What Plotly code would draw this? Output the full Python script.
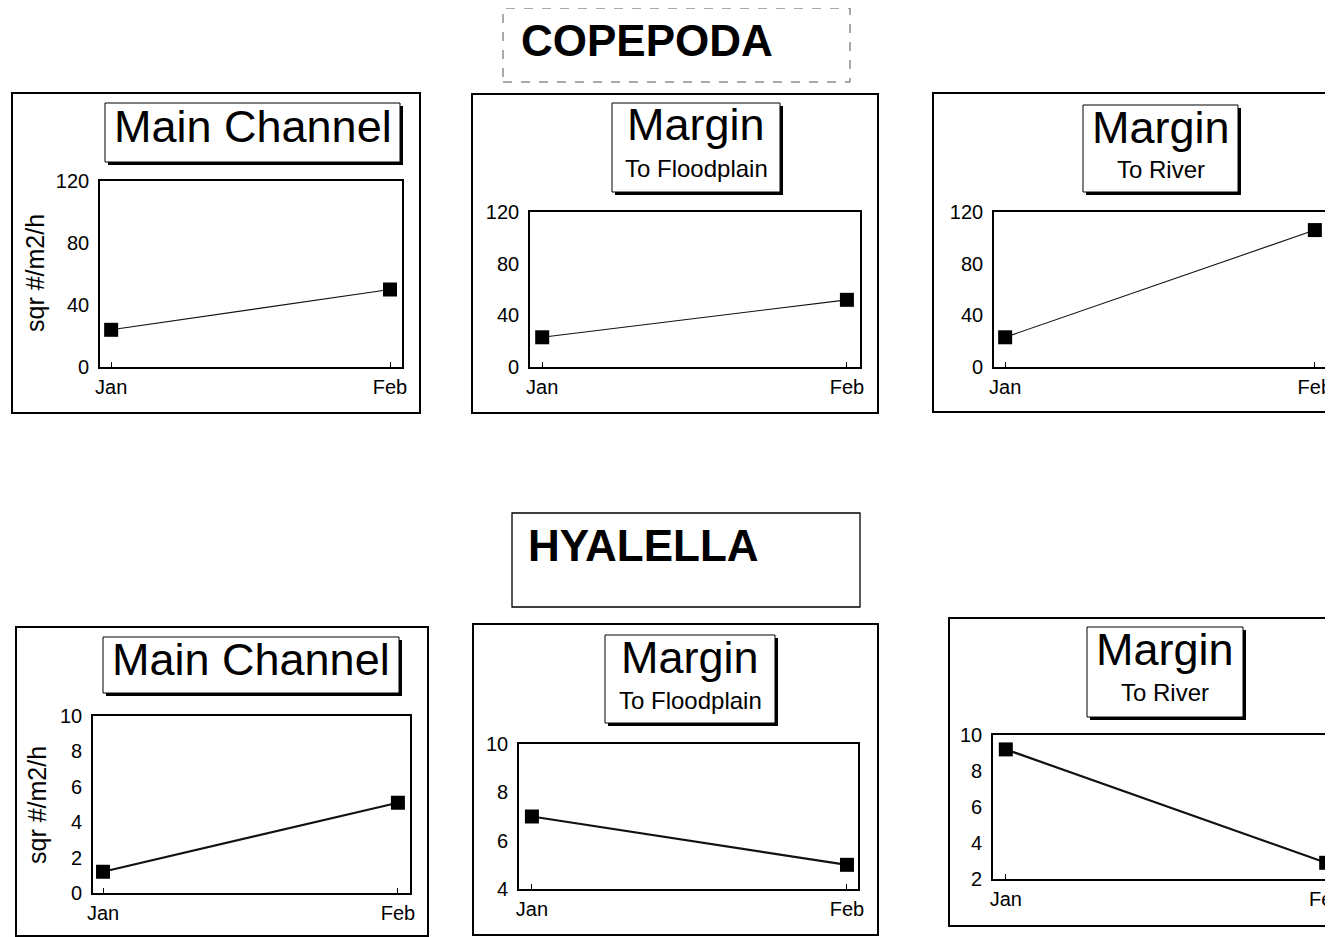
import plotly.graph_objects as go

W, H = 1333, 937
OFF = 8  # page body margin of the browser

months = ["Jan", "Feb"]
copepoda_main = [24, 50]
copepoda_floodplain = [23, 52]
copepoda_river = [23, 106]
hyalella_main = [1.2, 5.1]
hyalella_floodplain = [7.0, 5.0]
hyalella_river = [9.2, 2.9]

y_title = "sqr #/m2/h"
group_titles = ["COPEPODA", "HYALELLA"]

FONT = "Arial, Liberation Sans, Helvetica, sans-serif"


def fx(px):
    return (px - OFF) / W


def fy(py):
    return 1 - (py - OFF) / H


# panel specs: (values, plot area px (x0,x1,y0,y1), yrange, ytickvals, line width)
panels = [
    (copepoda_main, (100, 402, 181, 367), [0, 120], [0, 40, 80, 120], 1.1),
    (copepoda_floodplain, (530, 860, 212, 367), [0, 120], [0, 40, 80, 120], 1.1),
    (copepoda_river, (994, 1326, 212, 367), [0, 120], [0, 40, 80, 120], 1.1),
    (hyalella_main, (93, 410, 716, 893), [0, 10], [0, 2, 4, 6, 8, 10], 2.2),
    (hyalella_floodplain, (519, 858, 744, 889), [4, 10], [4, 6, 8, 10], 2.2),
    (hyalella_river, (993, 1339, 735, 879), [2, 10], [2, 4, 6, 8, 10], 2.2),
]
xranges = [[-0.04, 1.043], [-0.04, 1.043], [-0.036, 1.036],
           [-0.034, 1.041], [-0.041, 1.035], [-0.04, 1.04]]

fig = go.Figure()
layout = dict(
    width=W, height=H,
    margin=dict(l=0, r=0, t=0, b=0),
    paper_bgcolor="white", plot_bgcolor="rgba(0,0,0,0)",
    showlegend=False,
    font=dict(family=FONT, color="black"),
)

for i, (vals, (x0, x1, y0, y1), yr, ytv, lw) in enumerate(panels):
    n = i + 1
    xa = "x" if n == 1 else f"x{n}"
    ya = "y" if n == 1 else f"y{n}"
    fig.add_trace(go.Scatter(
        x=months, y=vals, xaxis=xa, yaxis=ya, mode="lines+markers",
        line=dict(color="#111", width=lw),
        marker=dict(symbol="square", size=14, color="black"),
        cliponaxis=False,
    ))
    xkey = "xaxis" if n == 1 else f"xaxis{n}"
    ykey = "yaxis" if n == 1 else f"yaxis{n}"
    layout[xkey] = dict(
        domain=[fx(x0), min(fx(x1), 1.0)], anchor=ya, type="category",
        range=xranges[i], showgrid=False, zeroline=False,
        showline=True, mirror=True, linecolor="black", linewidth=1.6,
        ticks="inside", ticklen=5, tickcolor="black",
        tickfont=dict(size=20, family=FONT), ticklabelstandoff=1,
        automargin=False, fixedrange=True,
    )
    layout[ykey] = dict(
        domain=[fy(y1), fy(y0)], anchor=xa, range=yr, tickvals=ytv,
        showgrid=False, zeroline=False,
        showline=True, mirror=True, linecolor="black", linewidth=1.6,
        ticks="", tickfont=dict(size=20, family=FONT), ticklabelstandoff=5,
        automargin=False, fixedrange=True,
    )

fig.update_layout(**layout)

shapes = []
annotations = []


def rect(x0, y0, x1, y1, **kw):
    d = dict(type="rect", xref="paper", yref="paper",
             x0=fx(x0), x1=fx(x1), y0=fy(y1), y1=fy(y0), layer="above")
    d.update(kw)
    shapes.append(d)


def text(x, y, s, size, bold=False, xanchor="center", angle=0):
    annotations.append(dict(
        xref="paper", yref="paper", x=fx(x), y=fy(y), text=f"<b>{s}</b>" if bold else s,
        showarrow=False, xanchor=xanchor, yanchor="middle", textangle=angle,
        font=dict(size=size, family=FONT, color="black"),
    ))


# outer panel boxes
for (a, b, c, d) in [(12, 93, 420, 413), (472, 94, 878, 413), (933, 93, 1360, 412),
                     (16, 627, 428, 936), (473, 624, 878, 935), (949, 618, 1360, 926)]:
    rect(a, b, c, d, line=dict(color="black", width=2), fillcolor="rgba(0,0,0,0)")

# group title boxes
rect(503, 8, 850, 82, line=dict(color="#555", width=1, dash="dash"), fillcolor="white")
rect(512, 513, 860, 607, line=dict(color="black", width=1.3), fillcolor="white")
text(519, 40, group_titles[0], 44, bold=True, xanchor="left")
text(526, 545, group_titles[1], 44, bold=True, xanchor="left")

# panel title boxes with drop shadow
title_boxes = [
    ((105, 103, 400, 162), "Main Channel", None),
    ((612, 103, 780, 192), "Margin", "To Floodplain"),
    ((1083, 105, 1238, 192), "Margin", "To River"),
    ((103, 637, 399, 693), "Main Channel", None),
    ((605, 635, 775, 723), "Margin", "To Floodplain"),
    ((1087, 627, 1243, 717), "Margin", "To River"),
]
for (a, b, c, d), t1, t2 in title_boxes:
    rect(a + 3, b + 3, c + 3, d + 3, line=dict(width=0), fillcolor="black")
    rect(a, b, c, d, line=dict(color="black", width=1), fillcolor="white")
    cx = (a + c) / 2
    if t2 is None:
        text(cx, (b + d) / 2 - 6, t1, 45)
    else:
        text(cx, b + 22, t1, 45)
        text(cx, b + 65, t2, 24)

# y-axis titles
text(35, 273, y_title, 25, angle=-90)
text(37, 805, y_title, 25, angle=-90)

fig.update_layout(shapes=shapes, annotations=annotations)
fig.write_html("out.html")
